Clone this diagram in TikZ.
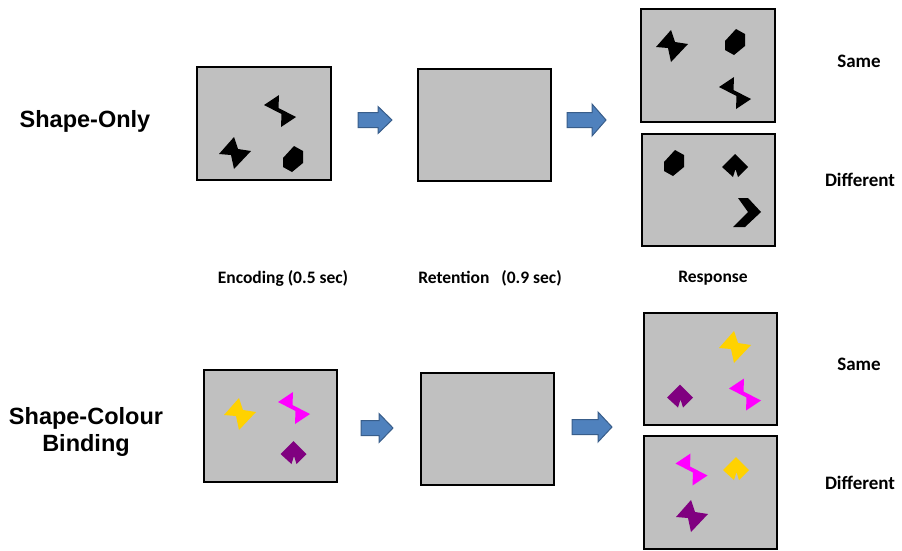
\documentclass[tikz,border=0pt]{standalone}
\usepackage{fontspec}
\newfontfamily\headfont{Liberation Sans}
\newfontfamily\calfont{Carlito}
\definecolor{panelgray}{HTML}{C0C0C0}
\definecolor{shpgold}{HTML}{FFD200}
\definecolor{shpmag}{HTML}{FF00FF}
\definecolor{shppurp}{HTML}{800080}
\definecolor{arrfill}{HTML}{4F81BD}
\definecolor{arrline}{HTML}{385D8A}
\begin{document}
\begin{tikzpicture}[x=1pt,y=-1pt,
        panel/.style={draw=black,line width=2.4pt,fill=panelgray,minimum width=133.5pt,minimum height=112.5pt,inner sep=0pt},
        rowlabel/.style={font=\headfont\bfseries\fontsize{23.5}{27}\selectfont,align=center},
        phaselabel/.style={font=\calfont\bfseries\fontsize{17.5}{20}\selectfont},
        answer/.style={font=\calfont\bfseries\fontsize{19}{22}\selectfont},
        blockarr/.style={fill=arrfill,draw=arrline,line width=1pt}]
            \useasboundingbox (0,0) rectangle (902,550);

            % Blockpfeil: links x, Mitte y, Laenge, halbe Kopfhoehe
            \def\blockarrow#1#2#3#4{
                \filldraw[blockarr,shift={(#1,#2)}] (0,-7.5) -- (#3-14,-7.5) -- (#3-14,-#4) -- (#3,0)
                    -- (#3-14,#4) -- (#3-14,7.5) -- (0,7.5) -- cycle;
            }

            % Bildschirme
            \node[panel] (enc1)  at (264,123.5) {};
            \node[panel] (ret1)  at (484.5,125) {};
            \node[panel] (same1) at (708,65.5) {};
            \node[panel] (diff1) at (708.5,190) {};
            \node[panel] (enc2)  at (270.5,426) {};
            \node[panel] (ret2)  at (487.5,429) {};
            \node[panel] (same2) at (710.5,369) {};
            \node[panel] (diff2) at (710.5,492.5) {};

            % Pfeile
            \blockarrow{358}{120}{34}{13.5}
            \blockarrow{567}{120}{39}{16}
            \blockarrow{361}{428}{32}{14.5}
            \blockarrow{572}{427}{40}{15}

            % Formen: Fliege
            \foreach \c/\px/\py in {black/235/153, black/672/46, shpgold/240/414, shpgold/735/347, shppurp/692/516} {
                \fill[\c,shift={(\px,\py)}] (-16,1) -- (-1,-16) -- (3,-4) -- (16,-2) -- (-1,16) -- (-4,2) -- cycle;
            }
            % Formen: Blitz
            \foreach \c/\px/\py in {black/280/111, black/735/93, shpmag/294/408, shpmag/745/394.5, shpmag/691.5/469.5} {
                \fill[\c,shift={(\px,\py)}] (-16,-6) -- (-1,-16) -- (-1.5,-3) -- (16,6) -- (1,16) -- (1.5,3) -- cycle;
            }
            % Formen: Sechseck
            \foreach \c/\px/\py in {black/293/159, black/735/42, black/674/163} {
                \fill[\c,shift={(\px,\py)}] (-10,-1) -- (1,-13) -- (10,-8) -- (10,4) -- (-1,13) -- (-10,8) -- cycle;
            }
            % Formen: Raute mit Kerbe
            \foreach \c/\px/\py in {black/735/166, shppurp/293.5/453, shppurp/680/396.5, shpgold/736/469} {
                \fill[\c,shift={(\px,\py)}] (-13,1) -- (0,-12) -- (13,1) -- (3,11) -- (0.5,3) -- (-2,11) -- cycle;
            }
            % Formen: Winkel
            \fill[black,shift={(747,212)}] (-9,-14) -- (1,-14) -- (14,0) -- (-2,15) -- (-14,15) -- (1,0) -- cycle;

            % Beschriftungen
            \node[rowlabel] (lonly) at (85,121) {Shape-Only};
            \node[rowlabel] (lbind) at (86,432) {Shape-Colour\\Binding};
            \node[phaselabel] (lenc)  at (283,278) {Encoding (0.5 sec)};
            \node[phaselabel] (lret)  at (490,278) {Retention\ \ \ (0.9 sec)};
            \node[phaselabel] (lresp) at (713,278) {Response};
            \node[answer] (lsame1) at (859,61)  {Same};
            \node[answer] (ldiff1) at (860,180) {Different};
            \node[answer] (lsame2) at (859,364) {Same};
            \node[answer] (ldiff2) at (860,483) {Different};
        \end{tikzpicture}
\end{document}
